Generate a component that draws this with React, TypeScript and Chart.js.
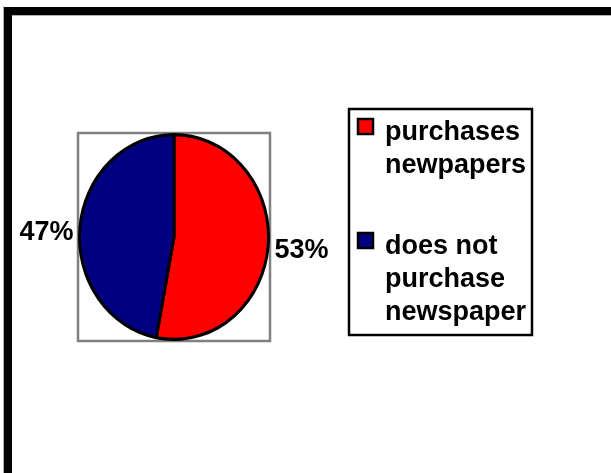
import React, { useEffect, useRef } from "react";
import { Chart, registerables } from "chart.js";

Chart.register(...registerables);

const categories = ["purchases newpapers", "does not purchase newspaper"];
const legendLines = [["purchases", "newpapers"], ["does not", "purchase", "newspaper"]];
const values = [53, 47];
const percentLabels = ["53%", "47%"];
const sliceColors = ["#FF0000", "#000080"];

const FONT = 'bold 27px "Liberation Sans", Arial, sans-serif';
const SY = 1.0833; // vertical stretch of the pie (Excel plot area is not square)

const framePlugin = {
  id: "framePlugin",
  beforeDraw(chart: any) {
    const ctx = chart.ctx;
    ctx.save();
    ctx.fillStyle = "#ffffff";
    ctx.fillRect(0, 0, chart.width, chart.height);
    // outer frame
    ctx.fillStyle = "#b0b0b0";
    ctx.fillRect(3, 6, 1, chart.height);
    ctx.fillRect(12, 15, chart.width, 1);
    ctx.fillStyle = "#000000";
    ctx.fillRect(4, 7, chart.width, 8);
    ctx.fillRect(4, 7, 8, chart.height);
    // plot area (grey)
    const arc = chart.getDatasetMeta(0).data[0];
    if (arc) {
      const R = arc.outerRadius + 1.5;
      ctx.strokeStyle = "#808080";
      ctx.lineWidth = 2.5;
      ctx.strokeRect(arc.x - R, arc.y - R * SY, 2 * R, 2 * R * SY);
    }
    ctx.restore();
  },
  beforeDatasetsDraw(chart: any) {
    const ctx = chart.ctx;
    const arc = chart.getDatasetMeta(0).data[0];
    ctx.save();
    if (arc) {
      ctx.translate(arc.x, arc.y);
      ctx.scale(1, SY);
      ctx.translate(-arc.x, -arc.y);
    }
  },
  afterDatasetsDraw(chart: any) {
    chart.ctx.restore();
  },
  afterDraw(chart: any) {
    const ctx = chart.ctx;
    ctx.save();
    ctx.font = FONT;
    ctx.fillStyle = "#000000";
    // percentage labels
    const meta = chart.getDatasetMeta(0);
    meta.data.forEach((arc: any, i: number) => {
      const mid = (arc.startAngle + arc.endAngle) / 2;
      const R = arc.outerRadius + 1.5;
      const dx = Math.cos(mid);
      const dy = Math.sin(mid);
      const px = arc.x + dx * R;
      const py = arc.y + dy * R * SY;
      ctx.textBaseline = "alphabetic";
      if (dx >= 0) {
        ctx.textAlign = "left";
        ctx.fillText(percentLabels[i], px + 5, py + 11);
      } else {
        ctx.textAlign = "right";
        ctx.fillText(percentLabels[i], px - 5, py + 13);
      }
    });
    // legend box
    ctx.strokeStyle = "#000000";
    ctx.lineWidth = 2.5;
    ctx.strokeRect(349, 109, 183, 226);
    const firstBaselines = [140, 254];
    const lineH = 33;
    ctx.textAlign = "left";
    legendLines.forEach((lines, i) => {
      const b = firstBaselines[i];
      // marker
      ctx.fillStyle = sliceColors[i];
      ctx.fillRect(358, b - 21, 15, 15);
      ctx.strokeStyle = "#000000";
      ctx.lineWidth = 2.5;
      ctx.strokeRect(358, b - 21, 15, 15);
      ctx.fillStyle = "#000000";
      lines.forEach((t, j) => {
        ctx.fillText(t, 385, b + j * lineH);
      });
    });
    ctx.restore();
  },
};

export default function App() {
  const ref = useRef<HTMLCanvasElement | null>(null);
  useEffect(() => {
    if (!ref.current) return;
    const chart = new Chart(ref.current, {
      type: "pie",
      data: {
        labels: categories,
        datasets: [
          {
            data: values,
            backgroundColor: sliceColors,
            borderColor: "#000000",
            borderWidth: 3,
          },
        ],
      },
      options: {
        responsive: false,
        animation: false,
        layout: { padding: { left: 78, right: 341, top: 141, bottom: 140 } },
        plugins: {
          legend: { display: false },
          tooltip: { enabled: false },
        },
      },
      plugins: [framePlugin],
    });
    return () => chart.destroy();
  }, []);
  return (
    <div style={{ position: "absolute", left: 0, top: 0, width: 611, height: 473 }}>
      <canvas ref={ref} width={611} height={473} style={{ display: "block" }} />
    </div>
  );
}
